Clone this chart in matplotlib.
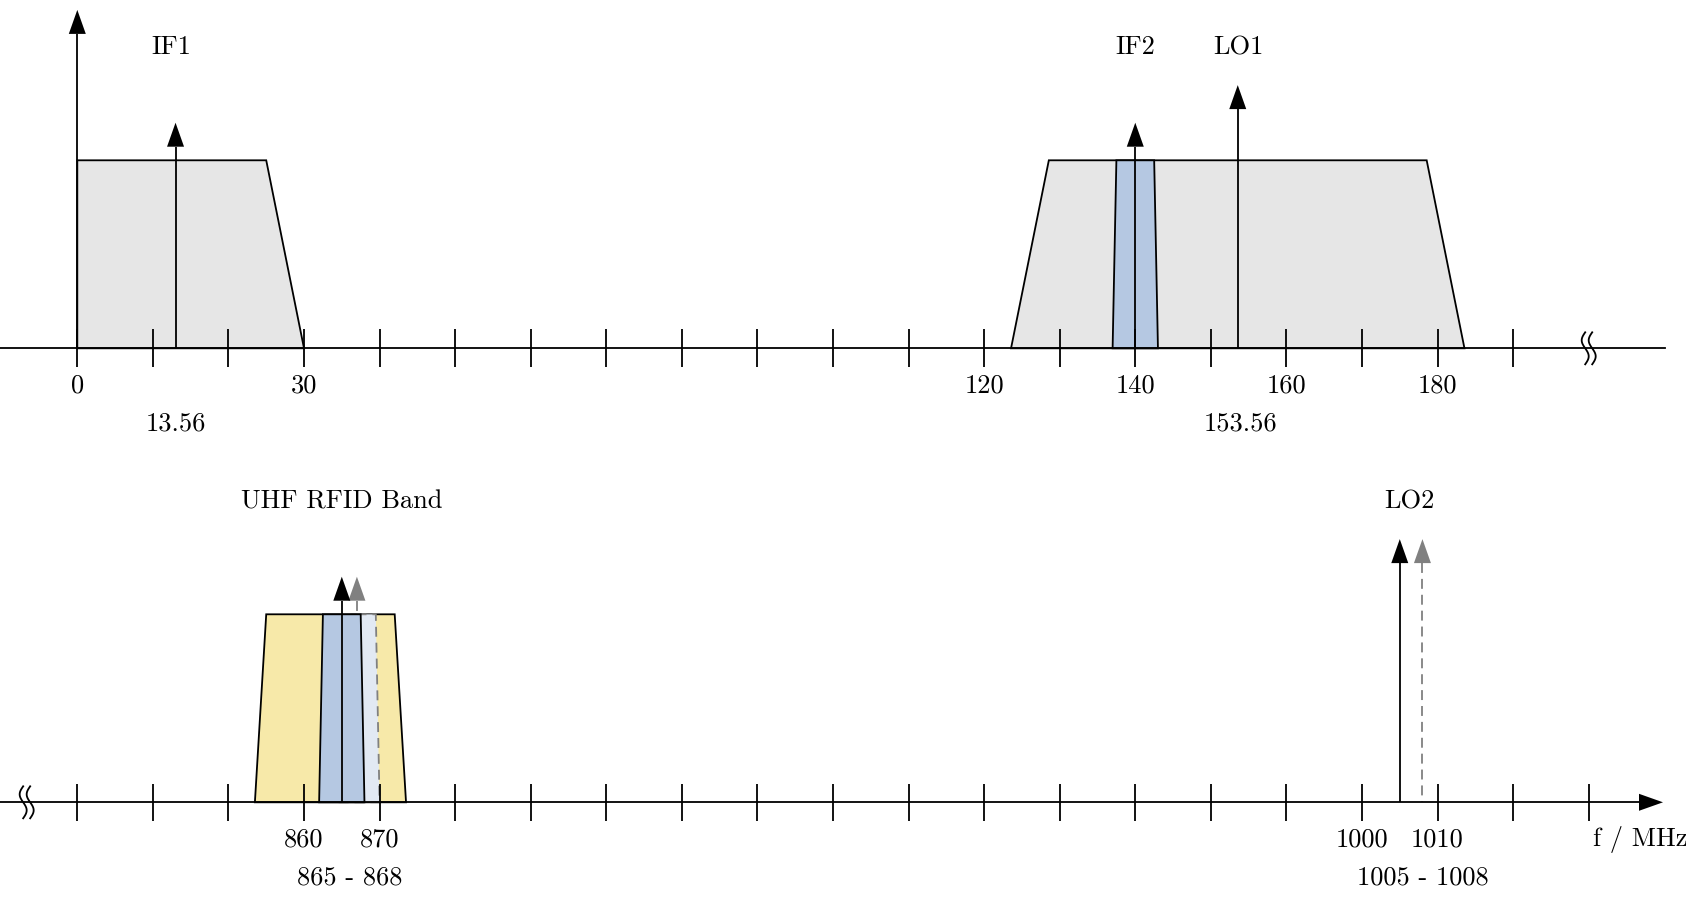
import numpy as np
import matplotlib
matplotlib.use('Agg')
import matplotlib.pyplot as plt

plt.rcParams['font.family'] = ['cmr10', 'DejaVu Serif']
plt.rcParams['axes.unicode_minus'] = False

# ---- top panel: IF1 / IF2 / LO1 side (MHz)
top_ticks = np.arange(0, 200, 10)
top_label_pos = [0, 30, 120, 140, 160, 180]
top_label_txt = ['0', '30', '120', '140', '160', '180']
top_sub_pos = [13.0, 153.9]
top_sub_txt = ['13.56', '153.56']

if1_band_x = [0, 0, 25, 30]
lo1_band_x = [123.56, 128.56, 178.56, 183.56]
if2_band_x = [137.0, 137.5, 142.5, 143.0]
band_y = [0, 1, 1, 0]

top_carrier_pos = [13.0, 140.0, 153.56]
top_carrier_h = [1.2, 1.2, 1.4]
top_name_pos = [12.4, 140.0, 153.7]
top_name_txt = ['IF1', 'IF2', 'LO1']

# ---- bottom panel: UHF RFID / LO2 side (MHz)
bot_ticks = np.arange(830, 1031, 10)
bot_label_pos = [860, 870, 1000, 1010]
bot_label_txt = ['860', '870', '1000', '1010']
bot_sub_pos = [866.0, 1008.0]
bot_sub_txt = ['865 - 868', '1005 - 1008']

uhf_band_x = [853.5, 855, 872, 873.5]
rx_band_x = [862, 862.5, 867.5, 868]
rx2_band_x = [864, 864.5, 869.5, 870]

bot_carrier_pos = [865.0, 1005.0]
bot_carrier_h = [1.2, 1.4]
bot_alt_pos = [867.0, 1008.0]
bot_alt_h = [1.2, 1.4]
bot_name_pos = [865.0, 1006.3]
bot_name_txt = ['UHF RFID Band', 'LO2']

# layout helpers (pixels per unit)
PX_X = 7.557
PX_Y = 188.0
LW = 1.3
FS = 19
HEAD_LEN = 24 / PX_Y
HEAD_HW = 8.5 / PX_X
GREY = '#808080'


def carrier(ax, x, h, color='black', ls='-', z=5):
    ax.plot([x, x], [h - HEAD_LEN, 0], color=color, lw=LW, ls=ls, zorder=z,
            solid_capstyle='butt', dash_capstyle='butt')
    ax.fill([x - HEAD_HW, x + HEAD_HW, x], [h - HEAD_LEN, h - HEAD_LEN, h],
            color=color, zorder=z, lw=0)


def axis_break(ax, x0):
    t = np.linspace(-1, 1, 60)
    for off in (-3.5, 3.5):
        ax.plot(x0 + (off - 3.5 * np.sin(np.pi * t)) / PX_X, 16 * t / PX_Y,
                color='black', lw=LW, zorder=8)


def draw_ticks(ax, ticks):
    ax.vlines(ticks, -0.1, 0.1, color='black', lw=LW, zorder=7)


fig = plt.figure(figsize=(16.86, 8.98), dpi=100)
ax_top = fig.add_axes([0, 0.5, 1, 0.5])
ax_bot = fig.add_axes([0, 0, 1, 0.5])

# ---------- top
ax = ax_top
ax.set_xlim(-77.3 / PX_X, (1686 - 77.3) / PX_X)
ax.set_ylim(-(449 - 348.3) / PX_Y, 348.3 / PX_Y)
ax.axis('off')

ax.fill(if1_band_x, band_y, facecolor='#e6e6e6', edgecolor='black', lw=LW, zorder=1)
ax.fill(lo1_band_x, band_y, facecolor='#e6e6e6', edgecolor='black', lw=LW, zorder=1)
ax.fill(if2_band_x, band_y, facecolor='#b5c8e2', edgecolor='black', lw=LW, zorder=2)
for x, h in zip(top_carrier_pos, top_carrier_h):
    carrier(ax, x, h)
carrier(ax, 0, 1.8)  # amplitude axis

ax.plot([-10.23, 210.1], [0, 0], color='black', lw=LW, zorder=6)
draw_ticks(ax, top_ticks)
axis_break(ax, 200.0)

for x, s in zip(top_label_pos, top_label_txt):
    ax.text(x, -0.2, s, ha='center', va='center', fontsize=FS)
for x, s in zip(top_sub_pos, top_sub_txt):
    ax.text(x, -0.4, s, ha='center', va='center', fontsize=FS)
for x, s in zip(top_name_pos, top_name_txt):
    ax.text(x, 1.6, s, ha='center', va='center', fontsize=FS)

# ---------- bottom
ax = ax_bot
ax.set_xlim(830 - 77.3 / PX_X, 830 + (1686 - 77.3) / PX_X)
ax.set_ylim(-(898 - 802.3) / PX_Y, (802.3 - 449) / PX_Y)
ax.axis('off')

ax.fill(uhf_band_x, band_y, facecolor='#f7e9a9', edgecolor='black', lw=LW, zorder=1)
ax.fill(rx2_band_x, band_y, facecolor='#e2e9f3', edgecolor=GREY, lw=LW,
        ls=(0, (5.5, 3.3)), zorder=2)
for x, h in zip(bot_alt_pos, bot_alt_h):
    carrier(ax, x, h, color=GREY, ls=(0, (5.5, 3.3)), z=3)
ax.fill(rx_band_x, band_y, facecolor='#b5c8e2', edgecolor='black', lw=LW, zorder=4)
for x, h in zip(bot_carrier_pos, bot_carrier_h):
    carrier(ax, x, h)

tip = 830 + (1663 - 77.3) / PX_X
hl = 24 / PX_X
hw = 8.5 / PX_Y
ax.plot([819.8, tip - hl], [0, 0], color='black', lw=LW, zorder=6)
ax.fill([tip - hl, tip - hl, tip], [-hw, hw, 0], color='black', lw=0, zorder=6)
draw_ticks(ax, bot_ticks)
axis_break(ax, 823.3)

for x, s in zip(bot_label_pos, bot_label_txt):
    ax.text(x, -0.2, s, ha='center', va='center', fontsize=FS)
for x, s in zip(bot_sub_pos, bot_sub_txt):
    ax.text(x, -0.4, s, ha='center', va='center', fontsize=FS)
for x, s in zip(bot_name_pos, bot_name_txt):
    ax.text(x, 1.6, s, ha='center', va='center', fontsize=FS)
ax.text(1030.6, -0.2, 'f / MHz', ha='left', va='center', fontsize=FS)

fig.savefig('out.png', dpi=100)
